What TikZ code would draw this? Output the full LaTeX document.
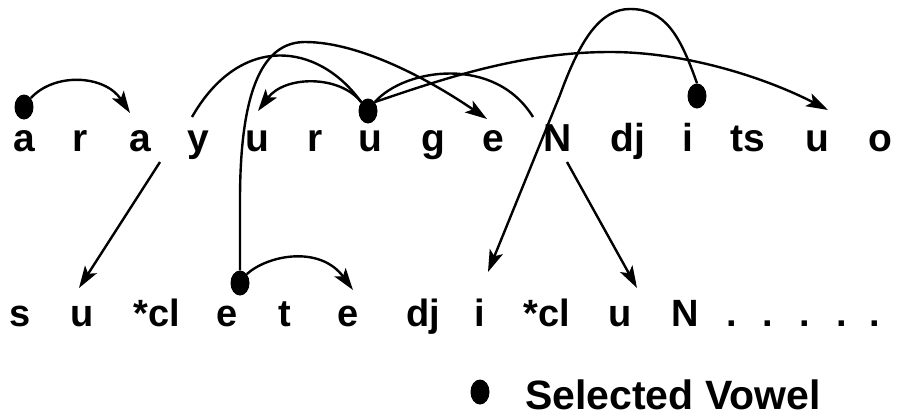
\documentclass[tikz,border=0pt]{standalone}
\usepackage{fontspec}
\setmainfont{Liberation Sans}
\usetikzlibrary{arrows.meta,shapes.geometric}
\begin{document}
\begin{tikzpicture}[x=1pt,y=-1pt,
  toprow/.style={anchor=base,inner sep=0pt,font=\fontsize{39}{44}\selectfont\bfseries},
  botrow/.style={anchor=base,inner sep=0pt,font=\fontsize{38}{44}\selectfont\bfseries},
  legendtext/.style={anchor=base west,inner sep=0pt,font=\fontsize{41}{46}\selectfont\bfseries},
  vdot/.style={ellipse,fill=black,minimum width=19pt,minimum height=25pt,inner sep=0pt},
  link/.style={line width=2.4pt},
  arr/.style={line width=2.4pt,-{Stealth[length=22pt,width=14pt,inset=5pt]}}]
\useasboundingbox (0,0) rectangle (897,416);
% top row
\node[toprow] (t1) at (24,151) {a};
\node[toprow] (t2) at (80,151) {r};
\node[toprow] (t3) at (140,151) {a};
\node[toprow] (t4) at (198,151) {y};
\node[toprow] (t5) at (257,151) {u};
\node[toprow] (t6) at (315,151) {r};
\node[toprow] (t7) at (370,151) {u};
\node[toprow] (t8) at (433,151) {g};
\node[toprow] (t9) at (493,151) {e};
\node[toprow] (t10) at (558,151) {N};
\node[toprow] (t11) at (628,151) {dj};
\node[toprow] (t12) at (688,151) {i};
\node[toprow] (t13) at (748,151) {ts};
\node[toprow] (t14) at (817,151) {u};
\node[toprow] (t15) at (880,151) {o};
% bottom row
\node[botrow] (b1) at (20,326) {s};
\node[botrow] (b2) at (82,326) {u};
\node[botrow] (b3) at (157,326) {*cl};
\node[botrow] (b4) at (227,326) {e};
\node[botrow] (b5) at (285,326) {t};
\node[botrow] (b6) at (348,326) {e};
\node[botrow] (b7) at (423,326) {dj};
\node[botrow] (b8) at (480,326) {i};
\node[botrow] (b9) at (547,326) {*cl};
\node[botrow] (b10) at (620,326) {u};
\node[botrow] (b11) at (685,326) {N};
\node[botrow] (p1) at (732,326) {.};
\node[botrow] (p2) at (768,326) {.};
\node[botrow] (p3) at (805,326) {.};
\node[botrow] (p4) at (842,326) {.};
\node[botrow] (p5) at (875,326) {.};
% selected vowel dots
\node[vdot] (d1) at (24,107) {};
\node[vdot] (d2) at (368,111) {};
\node[vdot] (d3) at (697,96) {};
\node[vdot] (d4) at (240,283) {};
% legend
\node[vdot] (ld) at (480,392) {};
\node[legendtext] (lt) at (525,409) {Selected Vowel};
% end points
\coordinate (a1e) at (130,113);
\coordinate (a2e) at (258,111);
\coordinate (ytop) at (192,117);
\coordinate (ybot) at (160,162);
\coordinate (su) at (79,288);
\coordinate (ntop) at (533,117);
\coordinate (nbot) at (567,162);
\coordinate (cu) at (637,288);
\coordinate (ee) at (487,119);
\coordinate (ue) at (828,110);
\coordinate (ie) at (488,272);
\coordinate (be) at (353,290);
% connectors
\draw[arr] (d1.north east) .. controls (55,72) and (105,75) .. (a1e);
\draw[arr] (d2.north west) .. controls (340,75) and (285,75) .. (a2e);
\draw[link] (d2.north west) .. controls (318,42) and (240,33) .. (ytop);
\draw[arr] (ybot) -- (su);
\draw[link] (d2.north east) .. controls (405,68) and (495,55) .. (ntop);
\draw[arr] (nbot) -- (cu);
\draw[arr] (d2.north east) .. controls (440,80) and (520,52) .. (610,52)
   .. controls (690,52) and (770,80) .. (ue);
\draw[arr] (d4.north) -- (240,200) .. controls (240,85) and (265,42) .. (305,42)
   .. controls (360,42) and (430,80) .. (ee);
\draw[arr] (d3.north) .. controls (680,35) and (665,9) .. (630,9)
   .. controls (600,9) and (580,40) .. (560,95) -- (ie);
\draw[arr] (d4.north east) .. controls (268,255) and (320,245) .. (be);
\end{tikzpicture}
\end{document}
